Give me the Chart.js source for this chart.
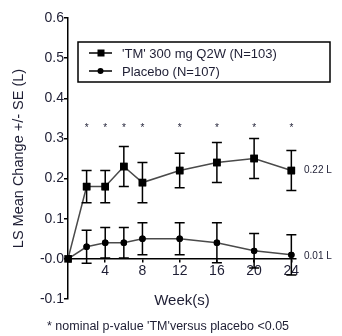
<!DOCTYPE html>
<html>
<head>
<meta charset="utf-8">
<script src="https://cdn.jsdelivr.net/npm/chart.js@4/dist/chart.umd.min.js"></script>
<style>
  html, body { margin: 0; padding: 0; background: #fff; }
  #wrap { width: 342px; height: 336px; position: relative; }
</style>
</head>
<body>
<div id="wrap"><canvas id="chart"></canvas></div>
<script>
const weeks = [0, 2, 4, 6, 8, 12, 16, 20, 24];
const tmMean = [0, 0.18, 0.18, 0.23, 0.19, 0.22, 0.24, 0.25, 0.22];
const tmSE = [0, 0.04, 0.04, 0.05, 0.05, 0.043, 0.05, 0.05, 0.05];
const pboMean = [0, 0.03, 0.04, 0.04, 0.05, 0.05, 0.04, 0.02, 0.01];
const pboSE = [0, 0.041, 0.038, 0.038, 0.04, 0.04, 0.05, 0.043, 0.05];
const sigWeeks = [2, 4, 6, 8, 12, 16, 20, 24];
const xTicks = [4, 8, 12, 16, 20, 24];
const seriesNames = ["'TM' 300 mg Q2W (N=103)", "Placebo (N=107)"];
const endLabels = ["0.22 L", "0.01 L"];
const footnote = "* nominal p-value 'TM'versus placebo <0.05";

const textColor = "#1e1e34";
const font = "'Liberation Sans', Arial, sans-serif";

// error bars, asterisks, end labels, legend box and footnote
const extras = {
    id: "extras",
    afterDatasetsDraw(chart) {
        const { ctx, scales: { x, y } } = chart;
        ctx.save();
        ctx.strokeStyle = "#000";
        ctx.lineWidth = 1.5;
        [[tmMean, tmSE], [pboMean, pboSE]].forEach(([m, se]) => {
            weeks.forEach((w, i) => {
                if (!se[i]) return;
                const px = x.getPixelForValue(w);
                const top = y.getPixelForValue(m[i] + se[i]);
                const bot = y.getPixelForValue(m[i] - se[i]);
                ctx.beginPath();
                ctx.moveTo(px, top); ctx.lineTo(px, bot);
                ctx.moveTo(px - 5, top); ctx.lineTo(px + 5, top);
                ctx.moveTo(px - 5, bot); ctx.lineTo(px + 5, bot);
                ctx.stroke();
            });
        });
        // redraw markers on top of the bars
        chart.getSortedVisibleDatasetMetas().slice().reverse().forEach(meta => {
            meta.data.forEach(pt => pt.draw(ctx, chart.chartArea));
        });

        ctx.fillStyle = textColor;
        ctx.textAlign = "center";
        ctx.textBaseline = "middle";
        ctx.font = "10px " + font;
        sigWeeks.forEach(w => {
            ctx.fillText("*", x.getPixelForValue(w), y.getPixelForValue(0.33) + 2);
        });

        ctx.textAlign = "left";
        ctx.font = "10px " + font;
        ctx.fillText(endLabels[0], 304, y.getPixelForValue(tmMean[tmMean.length - 1]));
        ctx.fillText(endLabels[1], 304, y.getPixelForValue(pboMean[pboMean.length - 1]) + 1);

        // legend
        ctx.strokeStyle = "#000";
        ctx.lineWidth = 1.5;
        ctx.strokeRect(78, 42, 252, 40);
        const rows = [53, 71];
        ["rect", "circle"].forEach((style, i) => {
            ctx.beginPath();
            ctx.lineWidth = 1.5;
            ctx.moveTo(89, rows[i]); ctx.lineTo(112, rows[i]);
            ctx.stroke();
            ctx.fillStyle = "#000";
            if (style === "rect") {
                ctx.fillRect(97.5, rows[i] - 3.5, 7, 7);
            } else {
                ctx.beginPath();
                ctx.arc(100.5, rows[i], 3, 0, Math.PI * 2);
                ctx.fill();
            }
            ctx.fillStyle = textColor;
            ctx.font = "13px " + font;
            ctx.fillText(seriesNames[i], 122, rows[i] + 1);
        });

        ctx.font = "12.5px " + font;
        ctx.textAlign = "left";
        ctx.fillText(footnote, 47, 327);
        ctx.restore();
    }
};

new Chart(document.getElementById("chart"), {
    type: "line",
    data: {
        datasets: [
            {
                label: seriesNames[0],
                data: weeks.map((w, i) => ({ x: w, y: tmMean[i] })),
                borderColor: "#4a4a4a",
                backgroundColor: "#000",
                borderWidth: 1.5,
                pointStyle: "rect",
                pointRadius: 5.3,
                pointBorderWidth: 0,
                tension: 0
            },
            {
                label: seriesNames[1],
                data: weeks.map((w, i) => ({ x: w, y: pboMean[i] })),
                borderColor: "#4a4a4a",
                backgroundColor: "#000",
                borderWidth: 1.5,
                pointStyle: "circle",
                pointRadius: 3.2,
                pointBorderWidth: 0,
                tension: 0
            }
        ]
    },
    options: {
        responsive: true,
        maintainAspectRatio: false,
        animation: false,
        layout: { padding: { top: 18, bottom: 37, right: 46, left: 0 } },
        plugins: { legend: { display: false }, tooltip: { enabled: false } },
        scales: {
            x: {
                type: "linear",
                position: { y: 0 },
                min: 0,
                max: 24.5,
                afterBuildTicks: scale => { scale.ticks = xTicks.map(v => ({ value: v })); },
                grid: { drawOnChartArea: false, tickLength: 3, color: "#000", lineWidth: 1.5 },
                border: { color: "#000", width: 1.5 },
                ticks: { color: textColor, font: { family: font, size: 14 }, padding: 1, maxRotation: 0 },
                title: { display: true, text: "Week(s)", color: textColor, font: { family: font, size: 15 }, padding: { top: 11, bottom: 0 } }
            },
            y: {
                min: -0.1,
                max: 0.6,
                afterFit: scale => { scale.width = 68; },
                grid: { drawOnChartArea: false, tickLength: 4, color: "#000", lineWidth: 1.5 },
                border: { color: "#000", width: 1.5 },
                ticks: {
                    stepSize: 0.1,
                    color: textColor,
                    font: { family: font, size: 14 },
                    padding: 0,
                    callback: v => v.toFixed(1)
                },
                title: { display: true, text: "LS Mean Change +/- SE (L)", color: textColor, font: { family: font, size: 14.5 }, padding: { top: 10, bottom: 0 } }
            }
        }
    },
    plugins: [extras]
});
</script>
</body>
</html>
